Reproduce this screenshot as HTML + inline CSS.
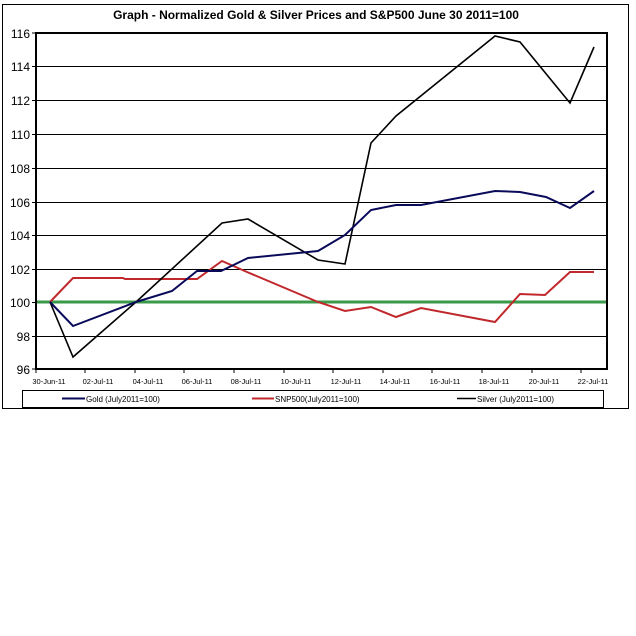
<!DOCTYPE html>
<html><head><meta charset="utf-8"><style>
html,body{margin:0;padding:0;background:#fff;}
svg{display:block;font-family:"Liberation Sans",Arial,sans-serif;}
</style></head><body>
<svg width="636" height="636" viewBox="0 0 636 636">
<rect x="2.5" y="4.5" width="626" height="404" fill="#fff" stroke="#000" stroke-width="1"/>
<text x="316" y="19" font-size="12" font-weight="bold" text-anchor="middle">Graph - Normalized Gold &amp; Silver Prices and S&amp;P500  June 30 2011=100</text>
<g stroke="#000" stroke-width="1">
<line x1="36" y1="66.5" x2="607" y2="66.5"/>
<line x1="36" y1="100.5" x2="607" y2="100.5"/>
<line x1="36" y1="134.5" x2="607" y2="134.5"/>
<line x1="36" y1="168.5" x2="607" y2="168.5"/>
<line x1="36" y1="202.5" x2="607" y2="202.5"/>
<line x1="36" y1="235.5" x2="607" y2="235.5"/>
<line x1="36" y1="269.5" x2="607" y2="269.5"/>
<line x1="36" y1="336.5" x2="607" y2="336.5"/>
</g>
<line x1="36" y1="302" x2="607" y2="302" stroke="#3a9a4a" stroke-width="3"/>
<rect x="36" y="33" width="571" height="336" fill="none" stroke="#000" stroke-width="2"/>
<g stroke="#000" stroke-width="1">
<line x1="32" y1="33" x2="36" y2="33"/><line x1="32" y1="66.5" x2="36" y2="66.5"/><line x1="32" y1="100.5" x2="36" y2="100.5"/><line x1="32" y1="134.5" x2="36" y2="134.5"/><line x1="32" y1="168.5" x2="36" y2="168.5"/><line x1="32" y1="202.5" x2="36" y2="202.5"/><line x1="32" y1="235.5" x2="36" y2="235.5"/><line x1="32" y1="269.5" x2="36" y2="269.5"/><line x1="32" y1="302.5" x2="36" y2="302.5"/><line x1="32" y1="336.5" x2="36" y2="336.5"/><line x1="32" y1="369" x2="36" y2="369"/>
<line x1="36" y1="369" x2="36" y2="373"/><line x1="85" y1="369" x2="85" y2="373"/><line x1="135" y1="369" x2="135" y2="373"/><line x1="184" y1="369" x2="184" y2="373"/><line x1="234" y1="369" x2="234" y2="373"/><line x1="284" y1="369" x2="284" y2="373"/><line x1="333" y1="369" x2="333" y2="373"/><line x1="383" y1="369" x2="383" y2="373"/><line x1="432" y1="369" x2="432" y2="373"/><line x1="482" y1="369" x2="482" y2="373"/><line x1="532" y1="369" x2="532" y2="373"/><line x1="581" y1="369" x2="581" y2="373"/>
</g>
<g font-size="12" text-anchor="end">
<text x="30" y="38">116</text><text x="30" y="71">114</text><text x="30" y="105">112</text><text x="30" y="139">110</text><text x="30" y="173">108</text><text x="30" y="207">106</text><text x="30" y="240">104</text><text x="30" y="274">102</text><text x="30" y="307">100</text><text x="30" y="341">98</text><text x="30" y="374">96</text>
</g>
<g font-size="7.5" text-anchor="middle">
<text x="49" y="384">30-Jun-11</text><text x="98" y="384">02-Jul-11</text><text x="148" y="384">04-Jul-11</text><text x="197" y="384">06-Jul-11</text><text x="246" y="384">08-Jul-11</text><text x="296" y="384">10-Jul-11</text><text x="346" y="384">12-Jul-11</text><text x="395" y="384">14-Jul-11</text><text x="445" y="384">16-Jul-11</text><text x="494" y="384">18-Jul-11</text><text x="544" y="384">20-Jul-11</text><text x="593" y="384">22-Jul-11</text>
</g>
<polyline fill="none" stroke="#c0282c" stroke-width="2" points="50,302 73,278 123,278 125,279 197,279 222,261 247,272 318,302 345,311 371,307 396,317 421,308 495,322 520,294 545,295 570,272 594,272"/>
<polyline fill="none" stroke="#000" stroke-width="1.6" points="50,302 73,357 136,302 222,223 248,219 318,260 345,264 371,143 396,116 495,36 520,42 570,103 594,47"/>
<polyline fill="none" stroke="#0a0a5a" stroke-width="2" points="50,302 73,326 136,302 172,291 197,271 221,271 248,258 318,251 345,235 371,210 396,205 421,205 495,191 520,192 546,197 570,208 594,191"/>
<rect x="22.5" y="390.5" width="581" height="17" fill="#fff" stroke="#000" stroke-width="1"/>
<line x1="62" y1="398.5" x2="85" y2="398.5" stroke="#0a0a5a" stroke-width="2"/>
<text x="86" y="402" font-size="8">Gold (July2011=100)</text>
<line x1="252" y1="398.5" x2="274" y2="398.5" stroke="#c0282c" stroke-width="2"/>
<text x="275" y="402" font-size="8">SNP500(July2011=100)</text>
<line x1="457" y1="398.5" x2="476" y2="398.5" stroke="#000" stroke-width="1.6"/>
<text x="477" y="402" font-size="8">Silver (July2011=100)</text>
</svg>
</body></html>
